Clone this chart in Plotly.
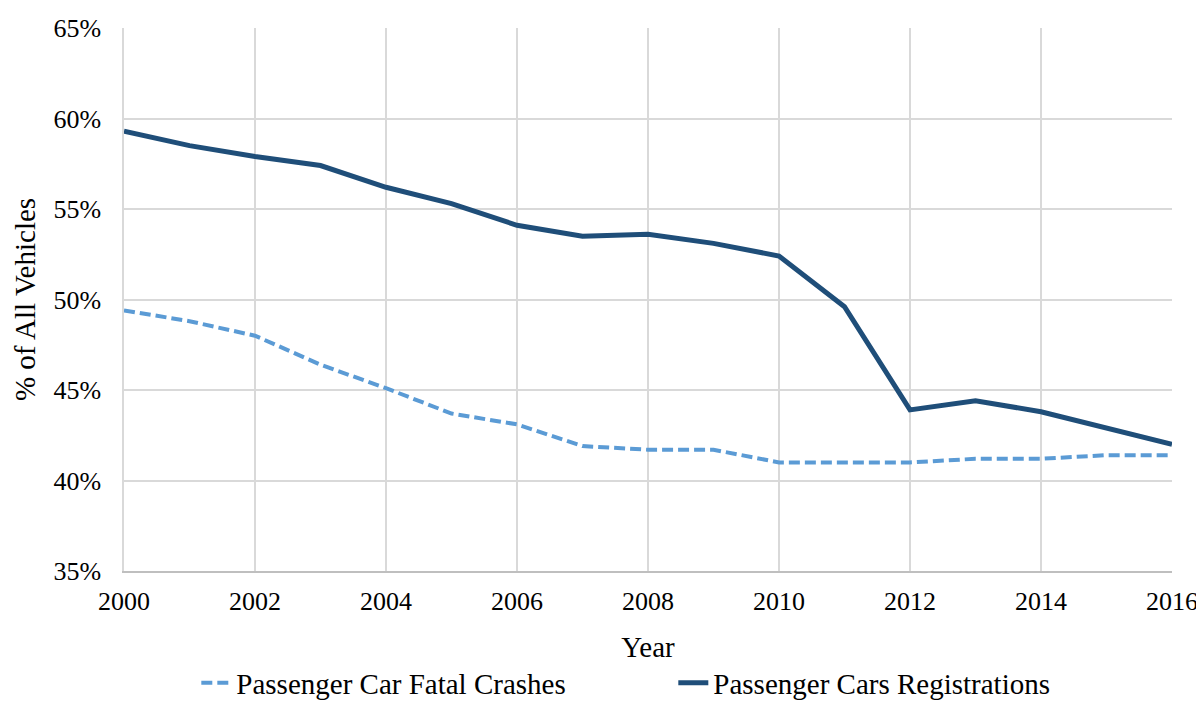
import plotly.graph_objects as go

years = list(range(2000, 2017))
fatal_crashes = [49.4, 48.8, 48.0, 46.4, 45.1, 43.7, 43.1, 41.9, 41.7, 41.7,
                 41.0, 41.0, 41.0, 41.2, 41.2, 41.4, 41.4]
registrations = [59.3, 58.5, 57.9, 57.4, 56.2, 55.3, 54.1, 53.5, 53.6, 53.1,
                 52.4, 49.6, 43.9, 44.4, 43.8, 42.9, 42.0]
y_ticks = [35, 40, 45, 50, 55, 60, 65]
x_ticks = list(range(2000, 2017, 2))

font = "Liberation Serif, Times New Roman, serif"

fig = go.Figure()
fig.add_trace(go.Scatter(
    x=years, y=fatal_crashes, mode="lines", name="Passenger Car Fatal Crashes",
    line=dict(color="#5B9BD5", width=4, dash="11px,5px"),
))
fig.add_trace(go.Scatter(
    x=years, y=registrations, mode="lines", name="Passenger Cars Registrations",
    line=dict(color="#1F4E79", width=5),
))

# page body adds an 8px margin, so the figure is sized/shifted to compensate
fig.update_layout(
    width=1196, height=720,
    margin=dict(l=116, r=32, t=20, b=157),
    paper_bgcolor="white", plot_bgcolor="white",
    font=dict(family=font, size=26, color="black"),
    showlegend=True,
    legend=dict(orientation="h", x=0.069, xanchor="left", y=-0.206, yanchor="middle",
                font=dict(size=29), entrywidth=432, entrywidthmode="pixels"),
)
fig.update_xaxes(
    range=[2000, 2016], tickvals=x_ticks, showgrid=True, gridcolor="#d9d9d9", gridwidth=1.5,
    showline=True, linecolor="#bfbfbf", linewidth=1.5, zeroline=False,
    ticklabelstandoff=6, ticklabeloverflow="allow", automargin=False,
    title=dict(text="Year", font=dict(size=29), standoff=22),
)
fig.update_yaxes(
    range=[35, 65], tickvals=y_ticks, ticktext=[f"{v}%" for v in y_ticks],
    showgrid=True, gridcolor="#d9d9d9", gridwidth=1.5, zeroline=False,
    showline=True, linecolor="#d9d9d9", linewidth=1.5,
    ticklabelstandoff=16, automargin=False,
    title=dict(text="% of All Vehicles", font=dict(size=29), standoff=9),
)

fig.write_html("out.html")
